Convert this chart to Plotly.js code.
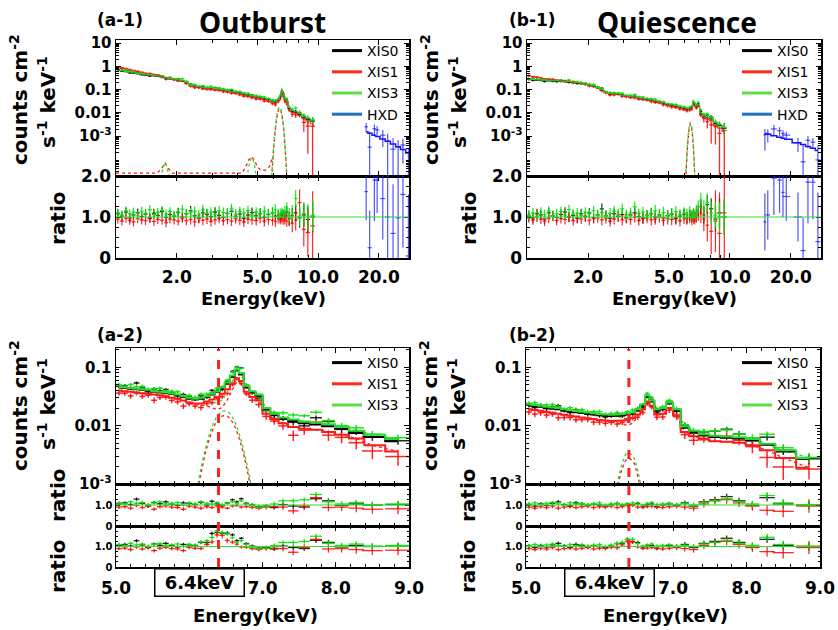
<!DOCTYPE html>
<html><head><meta charset="utf-8">
<script src="https://cdn.plot.ly/plotly-3.0.1.min.js"></script>
<style>html,body{margin:0;padding:0;background:#fff}#chart{width:838px;height:630px}</style>
</head><body><div id="chart"></div>
<script>
// ================= DATA =================
const eTop = [1.02,1.07,1.12,1.17,1.22,1.28,1.34,1.40,1.47,1.54,1.61,1.69,1.77,1.85,1.94,2.03,2.13,2.23,2.34,2.45,2.57,2.69,2.82,2.95,3.09,3.24,3.40,3.56,3.73,3.91,4.10,4.29,4.50,4.71,4.94,5.17,5.42,5.68,5.95,6.15,6.35,6.50,6.62,6.72,6.85,7.00,7.20,7.45,7.75,8.10,8.50,8.90,9.40];

const a1Model0 = [0.68,0.63,0.58,0.54,0.50,0.47,0.44,0.41,0.40,0.39,0.37,0.33,0.30,0.29,0.27,0.25,0.24,0.20,0.15,0.14,0.13,0.12,0.112,0.118,0.107,0.100,0.094,0.088,0.082,0.076,0.070,0.064,0.058,0.053,0.048,0.045,0.041,0.037,0.031,0.029,0.036,0.050,0.085,0.070,0.038,0.032,0.016,0.012,0.0105,0.0090,0.0066,0.0055,0.0045];
const a1Model1 = [0.98,0.89,0.81,0.74,0.68,0.62,0.57,0.52,0.49,0.46,0.43,0.37,0.33,0.31,0.285,0.26,0.245,0.20,0.15,0.138,0.127,0.116,0.108,0.113,0.102,0.095,0.089,0.083,0.077,0.071,0.065,0.059,0.053,0.048,0.043,0.040,0.036,0.033,0.027,0.025,0.031,0.042,0.065,0.055,0.032,0.027,0.014,0.0105,0.0090,0.0076,0.0056,0.0044,0.0034];
const a1Model3 = [0.70,0.65,0.60,0.56,0.52,0.49,0.46,0.43,0.42,0.40,0.38,0.34,0.31,0.30,0.28,0.26,0.25,0.21,0.155,0.145,0.135,0.125,0.117,0.123,0.111,0.104,0.098,0.092,0.085,0.079,0.073,0.067,0.060,0.055,0.050,0.047,0.043,0.039,0.032,0.030,0.038,0.053,0.090,0.074,0.040,0.034,0.017,0.0128,0.0112,0.0096,0.0071,0.0059,0.0048];
const a1Ratio0 = [1.08,1.02,1.12,0.98,1.05,1.10,1.01,1.07,0.97,1.09,1.04,1.13,0.99,1.06,1.02,1.11,1.00,1.08,1.15,1.03,0.98,1.10,1.06,1.01,1.12,1.04,0.99,1.09,1.14,1.02,1.07,0.97,1.05,1.11,1.03,1.08,0.99,1.06,1.10,1.02,1.05,0.98,1.04,1.08,1.01,1.12,0.96,1.03,1.10,0.98,1.05,0.94,1.00];
const a1Ratio1 = [0.95,0.90,0.97,0.92,0.88,0.96,0.93,0.91,0.98,0.89,0.94,0.92,0.86,0.95,0.93,0.90,0.97,0.91,0.94,0.88,0.96,0.92,0.95,0.89,0.93,0.97,0.91,0.94,0.90,0.96,0.92,0.88,0.95,0.93,0.91,0.97,0.90,0.94,0.92,0.89,0.96,0.93,0.95,0.91,0.94,0.90,0.96,0.85,0.93,1.35,0.70,0.62,0.78];
const a1Ratio3 = [1.10,1.05,1.15,1.08,1.12,1.03,1.14,1.09,1.18,1.06,1.11,1.16,1.07,1.13,1.04,1.12,1.19,1.08,1.10,1.14,1.05,1.17,1.09,1.12,1.06,1.15,1.11,1.08,1.20,1.07,1.13,1.10,1.16,1.05,1.12,1.09,1.14,1.07,1.11,1.18,1.06,1.10,1.13,1.08,1.15,1.22,1.05,1.10,1.45,1.02,1.08,1.00,1.04];
const a1Err  = [0.11,0.11,0.11,0.11,0.11,0.11,0.11,0.11,0.11,0.11,0.11,0.11,0.11,0.11,0.11,0.11,0.11,0.11,0.12,0.12,0.12,0.12,0.12,0.12,0.12,0.12,0.12,0.12,0.12,0.12,0.12,0.12,0.12,0.12,0.12,0.13,0.13,0.13,0.13,0.13,0.12,0.11,0.10,0.10,0.12,0.14,0.17,0.19,0.21,0.24,0.28,0.32,0.38];
const a1ErrR = [0.11,0.11,0.11,0.11,0.11,0.11,0.11,0.11,0.11,0.11,0.11,0.11,0.11,0.11,0.11,0.11,0.11,0.11,0.12,0.12,0.12,0.12,0.12,0.12,0.12,0.12,0.12,0.12,0.12,0.12,0.12,0.12,0.12,0.12,0.12,0.13,0.13,0.13,0.13,0.13,0.12,0.11,0.10,0.10,0.12,0.14,0.18,0.22,0.26,0.32,0.42,0.58,0.85];

const b1Model0 = [0.27,0.26,0.25,0.245,0.24,0.235,0.23,0.225,0.22,0.215,0.21,0.20,0.19,0.18,0.165,0.15,0.14,0.12,0.095,0.075,0.066,0.062,0.065,0.056,0.053,0.050,0.047,0.044,0.041,0.038,0.035,0.032,0.029,0.026,0.023,0.021,0.0195,0.018,0.016,0.0147,0.0155,0.018,0.028,0.024,0.019,0.022,0.0092,0.0070,0.0062,0.0056,0.0036,0.0029,0.0022];
const b1Model1 = [0.40,0.37,0.34,0.32,0.30,0.285,0.27,0.26,0.25,0.24,0.23,0.215,0.20,0.19,0.172,0.155,0.144,0.123,0.097,0.076,0.066,0.062,0.064,0.055,0.051,0.048,0.045,0.042,0.039,0.036,0.033,0.030,0.027,0.024,0.021,0.019,0.0175,0.016,0.014,0.0128,0.0133,0.0155,0.024,0.021,0.016,0.019,0.0078,0.0060,0.0053,0.0047,0.0029,0.0022,0.0016];
const b1Model3 = [0.28,0.27,0.26,0.255,0.25,0.245,0.24,0.235,0.23,0.225,0.22,0.21,0.20,0.19,0.172,0.157,0.146,0.125,0.099,0.078,0.069,0.065,0.068,0.058,0.055,0.052,0.049,0.046,0.043,0.040,0.037,0.034,0.030,0.027,0.024,0.022,0.0203,0.0188,0.0167,0.0153,0.0162,0.019,0.030,0.025,0.020,0.023,0.0097,0.0074,0.0066,0.0060,0.0039,0.0031,0.0024];
const b1Ratio0 = [1.02,0.98,1.08,1.05,0.95,1.10,1.03,0.99,1.06,1.12,1.00,1.04,0.97,1.08,1.02,1.10,0.98,1.05,1.20,1.03,0.97,1.08,1.02,1.06,0.99,1.05,1.10,1.01,0.97,1.04,1.08,1.00,1.05,0.98,1.03,1.07,0.96,1.02,1.06,0.98,1.05,1.01,1.08,1.00,1.10,1.15,1.25,1.05,1.30,1.20,0.95,1.10,1.00];
const b1Ratio1 = [0.98,0.93,1.00,0.95,0.90,0.97,1.02,0.92,0.96,0.94,0.99,0.91,0.97,0.95,1.00,0.92,0.96,0.98,0.93,0.97,0.90,0.95,1.01,0.93,0.97,0.94,0.99,0.92,0.96,0.98,0.93,0.95,1.00,0.92,0.96,0.94,0.98,0.91,0.97,0.95,0.99,0.93,0.96,0.94,1.00,1.05,1.10,0.95,0.80,0.65,0.90,0.60,1.10];
const b1Ratio3 = [1.05,1.10,1.02,1.12,1.06,1.15,1.03,1.08,1.13,1.05,1.18,1.07,1.10,1.04,1.12,1.08,1.15,1.06,1.11,1.03,1.09,1.14,1.07,1.20,1.05,1.10,1.25,1.08,1.12,1.04,1.09,1.15,1.06,1.11,1.03,1.08,1.13,1.05,1.10,1.07,1.12,1.04,1.09,1.06,1.15,1.25,1.40,1.20,1.35,1.10,1.05,1.00,1.00];
const b1Err  = [0.12,0.12,0.12,0.12,0.12,0.12,0.12,0.12,0.12,0.12,0.12,0.12,0.12,0.12,0.12,0.12,0.12,0.12,0.13,0.13,0.13,0.13,0.13,0.13,0.13,0.13,0.13,0.13,0.13,0.13,0.14,0.14,0.14,0.14,0.14,0.14,0.14,0.14,0.14,0.14,0.14,0.13,0.12,0.12,0.14,0.15,0.19,0.21,0.23,0.26,0.31,0.36,0.44];
const b1ErrR = [0.12,0.12,0.12,0.12,0.12,0.12,0.12,0.12,0.12,0.12,0.12,0.12,0.12,0.12,0.12,0.12,0.12,0.12,0.13,0.13,0.13,0.13,0.13,0.13,0.13,0.13,0.13,0.13,0.13,0.13,0.14,0.14,0.14,0.14,0.14,0.14,0.14,0.14,0.14,0.14,0.14,0.13,0.12,0.12,0.14,0.15,0.25,0.30,0.40,0.55,0.75,1.00,1.20];

const a1GaussE = [5.85,5.95,6.05,6.15,6.25,6.35,6.45,6.55,6.65,6.75,6.85,6.95,7.05];
const a1Gauss3 = [6e-6,7e-5,5.1e-4,2.4e-3,7.4e-3,0.0144,0.018,0.0144,7.4e-3,2.4e-3,5.1e-4,7e-5,6e-6];
const a1Gauss1 = [5e-6,6e-5,4.2e-4,2.0e-3,6.1e-3,0.012,0.015,0.012,6.1e-3,2.0e-3,4.2e-4,6e-5,5e-6];
const b1GaussE = [6.05,6.15,6.25,6.35,6.40,6.45,6.55,6.65,6.75];
const b1Gauss3 = [9e-6,1.8e-4,1.3e-3,3.5e-3,4.0e-3,3.5e-3,1.3e-3,1.8e-4,9e-6];
const b1Gauss1 = [7e-6,1.4e-4,1.0e-3,2.8e-3,3.2e-3,2.8e-3,1.0e-3,1.4e-4,7e-6];
const a1WeakE1 = [1.0,1.6,1.68,1.75,1.82,1.9,2.5,4.2,4.4,4.55,4.7,4.85,5.0,5.2,5.5,5.75,5.9];
const a1Weak1  = [2.6e-5,2.6e-5,4e-5,7e-5,4e-5,2.6e-5,2.6e-5,2.6e-5,5e-5,1.0e-4,1.3e-4,9e-5,5e-5,3.5e-5,3.5e-5,5e-5,1e-4];
const a1WeakE3 = [1.66,1.72,1.75,1.78,1.84,null,4.45,4.58,4.70,4.82,4.95];
const a1Weak3  = [1.5e-5,5e-5,7.5e-5,5e-5,1.5e-5,null,1.5e-5,7e-5,1.2e-4,7e-5,1.5e-5];

const a1HxdE     = [17.3,18.0,19.0,19.6,20.9,22.1,23.5,24.9,26.3,28.0];
const a1HxdModel = [1.55e-3,1.35e-3,1.1e-3,9.8e-4,7.6e-4,6.0e-4,4.6e-4,3.5e-4,2.7e-4,1.9e-4];
const a1HxdRatio = [1.62,0.25,1.9,1.9,1.45,1.0,0.6,0.98,1.55,0.05];
const a1HxdErr   = [0.7,0.9,1.0,0.8,1.0,1.1,1.2,1.0,1.3,1.5];
const b1HxdE     = [14.9,15.4,16.5,17.6,18.3,19.0,21.7,23.0,24.3,25.7,27.2];
const b1HxdModel = [1.3e-3,1.2e-3,1.05e-3,9e-4,8.2e-4,7.4e-4,5.2e-4,4.4e-4,3.6e-4,3.0e-4,2.4e-4];
const b1HxdRatio = [0.88,1.05,1.95,1.9,1.6,1.5,1.0,0.18,1.85,1.85,0.4];
const b1HxdErr   = [0.7,0.6,0.9,0.8,0.6,0.6,0.6,0.8,1.0,0.9,1.2];

const eLow = [5.04,5.12,5.20,5.28,5.36,5.44,5.52,5.60,5.68,5.76,5.84,5.92,6.00,6.08,6.16,6.24,6.31,6.38,6.45,6.52,6.59,6.65,6.71,6.78,6.86,6.95,7.05,7.16,7.28,7.42,7.57,7.73,7.90,8.08,8.28,8.50,8.85];
const a2Model0 = [0.045,0.044,0.043,0.042,0.041,0.040,0.038,0.037,0.036,0.035,0.033,0.031,0.029,0.028,0.029,0.031,0.034,0.038,0.043,0.052,0.068,0.088,0.075,0.045,0.037,0.032,0.019,0.015,0.013,0.012,0.011,0.0105,0.0098,0.0088,0.0075,0.0064,0.0054];
const a2Model1 = [0.040,0.039,0.038,0.037,0.036,0.035,0.034,0.033,0.032,0.030,0.029,0.027,0.025,0.024,0.024,0.026,0.028,0.031,0.035,0.042,0.053,0.065,0.058,0.038,0.031,0.027,0.016,0.013,0.011,0.0095,0.0088,0.0085,0.0078,0.0070,0.0060,0.0046,0.0036];
const a2Model3 = [0.046,0.045,0.044,0.043,0.042,0.041,0.039,0.038,0.037,0.036,0.034,0.032,0.030,0.029,0.030,0.032,0.035,0.039,0.045,0.055,0.072,0.092,0.080,0.048,0.039,0.034,0.020,0.016,0.0138,0.0127,0.0118,0.0113,0.0106,0.0095,0.0082,0.0070,0.0059];
const a2Gauss3 = [0,0,0,0,0,0,0,0,0,0,0,1.7e-5,1.1e-4,5.1e-4,1.85e-3,5.0e-3,9.5e-3,0.0144,0.0176,0.0174,0.0138,0.0095,0.0055,0.0024,7.3e-4,1.3e-4,1.3e-5,0,0,0,0,0,0,0,0,0,0];
const a2Gauss1 = [0,0,0,0,0,0,0,0,0,0,0,1.4e-5,9e-5,4.2e-4,1.5e-3,4.2e-3,7.9e-3,0.012,0.0146,0.0144,0.0115,0.0079,0.0046,0.0020,6e-4,1.1e-4,1.1e-5,0,0,0,0,0,0,0,0,0,0];
const a2Ratio0 = [1.05,1.10,1.02,1.28,1.08,0.95,1.12,1.06,1.15,1.04,0.98,1.10,1.07,1.02,1.12,1.00,1.18,1.05,0.97,1.10,1.25,1.15,1.30,1.08,1.00,0.92,0.95,0.88,1.02,0.95,0.90,1.30,1.20,0.98,1.05,1.00,1.02];
const a2Ratio1 = [0.90,0.92,0.85,0.98,0.88,0.95,0.80,0.92,0.96,0.90,0.88,0.80,0.95,0.90,0.85,0.92,0.88,0.96,0.90,0.85,0.95,0.98,0.90,0.92,0.88,0.85,0.90,0.92,0.90,0.72,0.95,1.35,0.88,0.90,0.85,0.80,0.82];
const a2Ratio3 = [1.10,1.05,1.15,1.08,1.12,1.02,1.10,1.15,1.05,1.08,1.12,1.00,1.10,1.05,1.15,1.08,1.05,1.12,1.02,1.10,1.15,1.08,1.20,1.05,0.95,0.90,0.92,1.05,1.20,1.20,1.25,1.50,1.15,1.05,1.12,1.02,1.05];
const a2Err  = [0.08,0.08,0.08,0.08,0.08,0.08,0.08,0.08,0.08,0.08,0.08,0.08,0.08,0.08,0.08,0.08,0.07,0.07,0.07,0.06,0.06,0.06,0.06,0.07,0.08,0.08,0.09,0.10,0.10,0.11,0.11,0.12,0.12,0.13,0.13,0.14,0.15];
const a2ErrR = [0.09,0.09,0.09,0.09,0.09,0.09,0.09,0.09,0.09,0.09,0.09,0.09,0.09,0.09,0.09,0.09,0.08,0.08,0.08,0.07,0.07,0.07,0.07,0.08,0.09,0.10,0.11,0.12,0.13,0.15,0.16,0.17,0.18,0.19,0.20,0.22,0.25];

const b2Model0 = [0.022,0.0215,0.021,0.020,0.0195,0.019,0.018,0.0175,0.017,0.0165,0.016,0.0155,0.015,0.0148,0.0146,0.0148,0.015,0.0155,0.016,0.018,0.022,0.031,0.026,0.018,0.019,0.024,0.018,0.0092,0.0078,0.0068,0.0064,0.0062,0.0060,0.0056,0.0047,0.0036,0.0027];
const b2Model1 = [0.019,0.0185,0.018,0.0172,0.0166,0.016,0.0153,0.0148,0.0143,0.0138,0.0134,0.013,0.0125,0.0122,0.012,0.0121,0.0123,0.0128,0.0135,0.0155,0.019,0.026,0.022,0.0155,0.016,0.020,0.015,0.0078,0.0066,0.0058,0.0054,0.0053,0.0051,0.0046,0.0038,0.0028,0.0019];
const b2Model3 = [0.023,0.0225,0.022,0.021,0.0205,0.020,0.019,0.0184,0.0178,0.0173,0.0168,0.0163,0.0158,0.0155,0.0153,0.0155,0.0158,0.0163,0.0168,0.019,0.023,0.033,0.027,0.019,0.020,0.025,0.019,0.0097,0.0082,0.0071,0.0067,0.0065,0.0063,0.0059,0.0049,0.0038,0.0028];
const b2Gauss3 = [0,0,0,0,0,0,0,0,0,0,0,0,0,2.1e-5,2.0e-4,9.7e-4,2.3e-3,3.4e-3,3.1e-3,1.7e-3,5.8e-4,1.5e-4,2.9e-5,0,0,0,0,0,0,0,0,0,0,0,0,0,0];
const b2Gauss1 = [0,0,0,0,0,0,0,0,0,0,0,0,0,1.7e-5,1.6e-4,7.8e-4,1.84e-3,2.7e-3,2.5e-3,1.36e-3,4.6e-4,1.2e-4,2.3e-5,0,0,0,0,0,0,0,0,0,0,0,0,0,0];
const b2Ratio0 = [1.02,0.95,1.05,0.98,1.08,1.15,1.02,0.96,1.10,1.05,0.98,1.04,1.00,0.95,1.02,1.06,0.98,1.05,1.00,1.08,0.95,1.02,1.05,0.92,1.00,1.05,0.98,1.10,0.95,1.15,1.25,1.40,1.20,0.98,1.35,1.05,1.00];
const b2Ratio1 = [0.90,0.85,0.92,0.88,0.95,0.85,0.90,0.93,0.88,0.92,0.95,0.88,0.92,0.90,0.95,0.88,0.92,0.98,1.00,0.90,0.88,0.92,0.95,0.90,0.88,0.92,0.95,0.90,0.85,1.05,1.20,1.25,1.10,0.95,0.75,0.70,0.95];
const b2Ratio3 = [1.05,1.10,1.02,1.08,1.12,1.05,1.00,1.10,1.04,1.08,1.02,1.06,1.10,1.00,1.05,1.08,1.02,1.06,1.10,1.04,1.00,1.08,1.12,1.02,1.05,1.08,1.02,1.06,1.00,1.12,1.20,1.30,1.15,1.05,1.45,1.10,1.02];
const b2Err  = [0.09,0.09,0.09,0.09,0.09,0.09,0.09,0.09,0.09,0.09,0.09,0.09,0.09,0.09,0.09,0.09,0.08,0.08,0.08,0.08,0.07,0.07,0.08,0.09,0.09,0.09,0.10,0.12,0.12,0.13,0.14,0.14,0.15,0.16,0.17,0.18,0.20];
const b2ErrR = [0.10,0.10,0.10,0.10,0.10,0.10,0.10,0.10,0.10,0.10,0.10,0.10,0.10,0.10,0.10,0.10,0.09,0.09,0.09,0.09,0.08,0.08,0.09,0.10,0.10,0.10,0.12,0.14,0.15,0.17,0.18,0.19,0.20,0.22,0.25,0.28,0.32];

const topXTickVals = [2,5,10,20];
const topXTickText = ['2.0','5.0','10.0','20.0'];
const specTickVals = [10,1,0.1,0.01,0.001];
const specTickText = ['10','1','0.1','0.01','10<sup>-3</sup>'];
const lowXTickVals = [5,7,8,9];
const lowXTickText = ['5.0','7.0','8.0','9.0'];
const seriesNames = ['XIS0','XIS1','XIS3','HXD'];

// ================= DRAWING =================
const W=838, H=630;
const FONT = '"DejaVu Sans", "Noto Sans", sans-serif';
const TFONT = '"Noto Sans", "DejaVu Sans", sans-serif';
const xd=(a,b)=>[a/W,b/W];
const yd=(top,bot)=>[1-bot/H,1-top/H];
const C0='rgba(0,0,0,0.85)', C1='rgba(255,0,0,0.85)', C3='rgba(0,230,0,0.9)', CH='rgba(40,40,255,0.8)';
const M0='#000000', M1='#ff1a1a', M3='#2ed82e', MH='#1414ff';

function halfW(e){
  return e.map((v,i)=>{
    const a=i>0?e[i-1]:null, b=i<e.length-1?e[i+1]:null;
    if(a===null) return (b-v)/2; if(b===null) return (v-a)/2; return (b-a)/4;
  });
}
function pts(E, Y, EY, color, xa, ya, th){
  return {type:'scatter', mode:'markers', x:E, y:Y, xaxis:xa, yaxis:ya, showlegend:false, hoverinfo:'skip',
    marker:{size:1,color:color},
    error_x:{type:'data', array:halfW(E), color:color, thickness:th, width:0},
    error_y:{type:'data', array:EY, color:color, thickness:th, width:0}};
}
function specPts(E, model, ratio, err, color, xa, ya, th){
  return pts(E, model.map((m,i)=>m*ratio[i]), model.map((m,i)=>m*err[i]), color, xa, ya, th);
}
function line(E, Y, color, xa, ya, w, dash, shape){
  return {type:'scatter', mode:'lines', x:E, y:Y, xaxis:xa, yaxis:ya, showlegend:false, hoverinfo:'skip',
    line:{color:color, width:w, dash:dash||'solid', shape:shape||'hvh'}};
}
function legendEntry(name, color, lg, xa, ya){
  return {type:'scatter', mode:'lines', x:[null], y:[null], xaxis:xa, yaxis:ya, name:name, legend:lg,
    showlegend:true, line:{color:color, width:3}};
}

const traces=[];
function topPanel(sx, sy, rx, ry, M, R, ER, EC, G, gE, hxd, lg){
  const cols=[C0,C1,C3];
  for(let k=0;k<3;k++){
    const err = k===1?EC:ER;
    traces.push(specPts(eTop, M[k], R[k], err, cols[k], sx, sy, 1.3));
  }
  traces.push(line(eTop, M[0], M0, sx, sy, 1));
  traces.push(line(eTop, M[1], M1, sx, sy, 1));
  traces.push(line(eTop, M[2], M3, sx, sy, 1));
  traces.push(line(gE, G[1], M1, sx, sy, 1.3, 'dot', 'spline'));
  traces.push(line(gE, G[0], M3, sx, sy, 1.3, 'dot', 'spline'));
  traces.push(specPts(hxd[0], hxd[1], hxd[2], hxd[3], CH, sx, sy, 1.2));
  traces.push(line(hxd[0], hxd[1], MH, sx, sy, 1.5));
  for(let k=0;k<3;k++){
    const err = k===1?EC:ER;
    traces.push(pts(eTop, R[k], err, cols[k], rx, ry, 1.2));
  }
  traces.push(pts(hxd[0], hxd[2], hxd[3], CH, rx, ry, 1.2));
  const lc=[M0,'#ff2a1a','#62dc42','#1f72c0'];
  for(let k=0;k<4;k++) traces.push(legendEntry(seriesNames[k], lc[k], lg, sx, sy));
}
topPanel('x','y','x2','y2',[a1Model0,a1Model1,a1Model3],[a1Ratio0,a1Ratio1,a1Ratio3],a1Err,a1ErrR,
  [a1Gauss3,a1Gauss1],a1GaussE,[a1HxdE,a1HxdModel,a1HxdRatio,a1HxdErr],'legend');
traces.push(line(a1WeakE1, a1Weak1, M1, 'x','y', 1.3, 'dot','linear'));
traces.push(line(a1WeakE3, a1Weak3, M3, 'x','y', 1.3, 'dot','spline'));
topPanel('x3','y3','x4','y4',[b1Model0,b1Model1,b1Model3],[b1Ratio0,b1Ratio1,b1Ratio3],b1Err,b1ErrR,
  [b1Gauss3,b1Gauss1],b1GaussE,[b1HxdE,b1HxdModel,b1HxdRatio,b1HxdErr],'legend2');

function lowPanel(ax, M, R, ER, EC, G, lg){
  const [sx,sy,r1x,r1y,r2x,r2y]=ax;
  const cols=[C0,C1,C3], mcols=[M0,M1,M3];
  const gFor=[G[0],G[1],G[0]];
  for(let k=0;k<3;k++){
    const err=k===1?EC:ER;
    traces.push(specPts(eLow, M[k], R[k], err, cols[k], sx, sy, 1.5));
  }
  traces.push(line(eLow, M[1].map((m,i)=>m-G[1][i]), M1, sx, sy, 1.3, 'dot', 'linear'));
  traces.push(line(eLow, M[2].map((m,i)=>m-G[0][i]), M3, sx, sy, 1.3, 'dot', 'linear'));
  traces.push(line(eLow, G[1], M1, sx, sy, 1.3, 'dot', 'spline'));
  traces.push(line(eLow, G[0], M3, sx, sy, 1.3, 'dot', 'spline'));
  for(let k=0;k<3;k++) traces.push(line(eLow, M[k], mcols[k], sx, sy, 2));
  for(let k=0;k<3;k++){
    const err=k===1?EC:ER;
    traces.push(pts(eLow, R[k], err, cols[k], r1x, r1y, 1.3));
    const cont=M[k].map((m,i)=>m-gFor[k][i]);
    traces.push(pts(eLow, R[k].map((r,i)=>r*M[k][i]/cont[i]), err.map((e,i)=>e*M[k][i]/cont[i]), cols[k], r2x, r2y, 1.3));
  }
  const lc=[M0,'#ff2a1a','#62dc42'];
  for(let k=0;k<3;k++) traces.push(legendEntry(seriesNames[k], lc[k], lg, sx, sy));
}
lowPanel(['x5','y5','x6','y6','x7','y7'],[a2Model0,a2Model1,a2Model3],[a2Ratio0,a2Ratio1,a2Ratio3],a2Err,a2ErrR,[a2Gauss3,a2Gauss1],'legend3');
lowPanel(['x8','y8','x9','y9','x10','y10'],[b2Model0,b2Model1,b2Model3],[b2Ratio0,b2Ratio1,b2Ratio3],b2Err,b2ErrR,[b2Gauss3,b2Gauss1],'legend4');

const tf=(s)=>({family:FONT,size:s,color:'#000',weight:'bold'});
function base(extra){
  return Object.assign({showline:true, linecolor:'#000', linewidth:1.5, mirror:'allticks', ticks:'inside',
    ticklen:5, tickwidth:1, tickcolor:'#000', showgrid:false, zeroline:false, tickfont:tf(15), fixedrange:true}, extra);
}
const logMinorX=[]; for(const d of [1,10]) for(let m=1;m<=9;m++) logMinorX.push(m*d);
const logMinorY=[]; for(const d of [1e-5,1e-4,1e-3,1e-2,1e-1,1]) for(let m=2;m<=9;m++) logMinorY.push(m*d);
const linMinor=[]; for(let v=5.2;v<9;v+=0.2) linMinor.push(+v.toFixed(1));
const minorTop={ticks:'inside', ticklen:3, tickwidth:1, tickmode:'array', tickvals:logMinorX, showgrid:false};
const minorSpec={ticks:'inside', ticklen:3, tickwidth:1, tickmode:'array', tickvals:logMinorY, showgrid:false};
const minorLow={ticks:'inside', ticklen:3, tickwidth:1, tickmode:'array', tickvals:linMinor, showgrid:false};
const minorRatio={ticks:'inside', ticklen:3, tickwidth:1, tickmode:'array', tickvals:[0.25,0.5,0.75,1.25,1.5,1.75], showgrid:false};
const minorRatioS={ticks:'inside', ticklen:2, tickwidth:1, tickmode:'array', tickvals:[0.25,0.5,0.75,1.25,1.5,1.75], showgrid:false};

function topX(dom, anchor, labels){
  return base({type:'log', range:[0,1.45], domain:dom, anchor:anchor, tickmode:'array', tickvals:topXTickVals,
    ticktext:topXTickText, showticklabels:labels, minor:minorTop, tickfont:tf(17), ticklabelstandoff:3});
}
function specY(dom, anchor, range){
  return base({type:'log', range:range, domain:dom, anchor:anchor, tickmode:'array', tickvals:specTickVals,
    ticktext:specTickText, minor:minorSpec, tickfont:tf(15)});
}
function lowX(dom, anchor, labels){
  return base({type:'linear', range:[5,9], domain:dom, anchor:anchor, tickmode:'array', tickvals:lowXTickVals,
    ticktext:lowXTickText, showticklabels:labels, minor:minorLow, tickfont:tf(17), ticklabelstandoff:5});
}
function ratioY(dom, anchor, big){
  return big
    ? base({range:[0,2], domain:dom, anchor:anchor, tickmode:'array', tickvals:[0,1,2], ticktext:['0','1.0','2.0'], minor:minorRatio, tickfont:tf(17)})
    : base({range:[0,2], domain:dom, anchor:anchor, tickmode:'array', tickvals:[0,1], ticktext:['0','1.0'], minor:minorRatioS, ticklen:4, tickfont:tf(10)});
}
const XA=xd(116,409), XB1=xd(527,821), XB2=xd(526,820);
const layout={
  width:W, height:H, margin:{l:0,r:0,t:0,b:0}, paper_bgcolor:'#fff', plot_bgcolor:'rgba(0,0,0,0)',
  font:{family:FONT, color:'#000'},
  xaxis: topX(XA,'y',false),
  yaxis: specY(yd(40,176),'x',[-4.71,1.13]),
  xaxis2: topX(XA,'y2',true),
  yaxis2: ratioY(yd(176,258),'x2',true),
  xaxis3: topX(XB1,'y3',false),
  yaxis3: specY(yd(40,176),'x3',[-4.71,1.13]),
  xaxis4: topX(XB1,'y4',true),
  yaxis4: ratioY(yd(176,258),'x4',true),
  xaxis5: lowX(XA,'y5',false),
  yaxis5: specY(yd(348,484),'x5',[-3.0,-0.67]),
  xaxis6: lowX(XA,'y6',false),
  yaxis6: ratioY(yd(484,526),'x6',false),
  xaxis7: lowX(XA,'y7',true),
  yaxis7: ratioY(yd(526,567),'x7',false),
  xaxis8: lowX(XB2,'y8',false),
  yaxis8: specY(yd(348,484),'x8',[-3.0,-0.67]),
  xaxis9: lowX(XB2,'y9',false),
  yaxis9: ratioY(yd(484,526),'x9',false),
  xaxis10: lowX(XB2,'y10',true),
  yaxis10: ratioY(yd(526,567),'x10',false),
  shapes:[], annotations:[]
};
for(const [xa,ya] of [['x2','y2'],['x4','y4'],['x6','y6'],['x7','y7'],['x9','y9'],['x10','y10']]){
  layout.shapes.push({type:'line', xref:xa+' domain', yref:ya, x0:0, x1:1, y0:1, y1:1, line:{color:'#2ee02e', width:1.2}, layer:'above'});
}
for(const xa of ['x5','x8']){
  layout.shapes.push({type:'line', xref:xa, yref:'paper', x0:6.4, x1:6.4, y0:1-567/H, y1:1-349/H, line:{color:'#ff2020', width:3, dash:'dash'}});
}
const lgBase={bgcolor:'rgba(0,0,0,0)', borderwidth:0, font:{family:FONT,size:14,color:'#000'}, itemwidth:30, tracegroupgap:0, xanchor:'left', yanchor:'top', orientation:'v'};
layout.legend = Object.assign({},lgBase,{x:327/W, y:1-35/H});
layout.legend2 = Object.assign({},lgBase,{x:737/W, y:1-35/H});
layout.legend3 = Object.assign({},lgBase,{x:327/W, y:1-347/H});
layout.legend4 = Object.assign({},lgBase,{x:737/W, y:1-347/H});

function ann(text, px, py, size, opts, fam){
  layout.annotations.push(Object.assign({text:text, xref:'paper', yref:'paper', x:px/W, y:1-py/H, showarrow:false,
    xanchor:'center', yanchor:'middle', font:{family:fam||FONT, size:size, color:'#000', weight:'bold'}}, opts||{}));
}
ann('(a-1)',120,20,17); ann('Outburst',262,22,28,{},TFONT);
ann('(b-1)',532,20,17); ann('Quiescence',677,22,28,{},TFONT);
ann('(a-2)',120,335,17); ann('(b-2)',532,335,17);
for(const dx of [0,411]){
  ann('counts cm<sup>-2</sup>',19+dx,100,20,{textangle:-90});
  ann('s<sup>-1</sup> keV<sup>-1</sup>',47+dx,102,20,{textangle:-90});
  ann('ratio',58+dx,218,20,{textangle:-90});
  ann('Energy(keV)',263+dx,298,18);
}
for(const dx of [0,410]){
  ann('counts cm<sup>-2</sup>',19+dx,406,20,{textangle:-90});
  ann('s<sup>-1</sup> keV<sup>-1</sup>',47+dx,404,20,{textangle:-90});
  ann('ratio',58+dx,495,20,{textangle:-90});
  ann('ratio',58+dx,566,20,{textangle:-90});
  ann('Energy(keV)',255+dx,615,18);
  ann('6.4keV',199+dx,582,18,{bordercolor:'#000', borderwidth:1.5, borderpad:1, bgcolor:'#fff', width:86, height:24});
}
Plotly.newPlot('chart', traces, layout, {staticPlot:true, displayModeBar:false});
</script>
</body></html>
